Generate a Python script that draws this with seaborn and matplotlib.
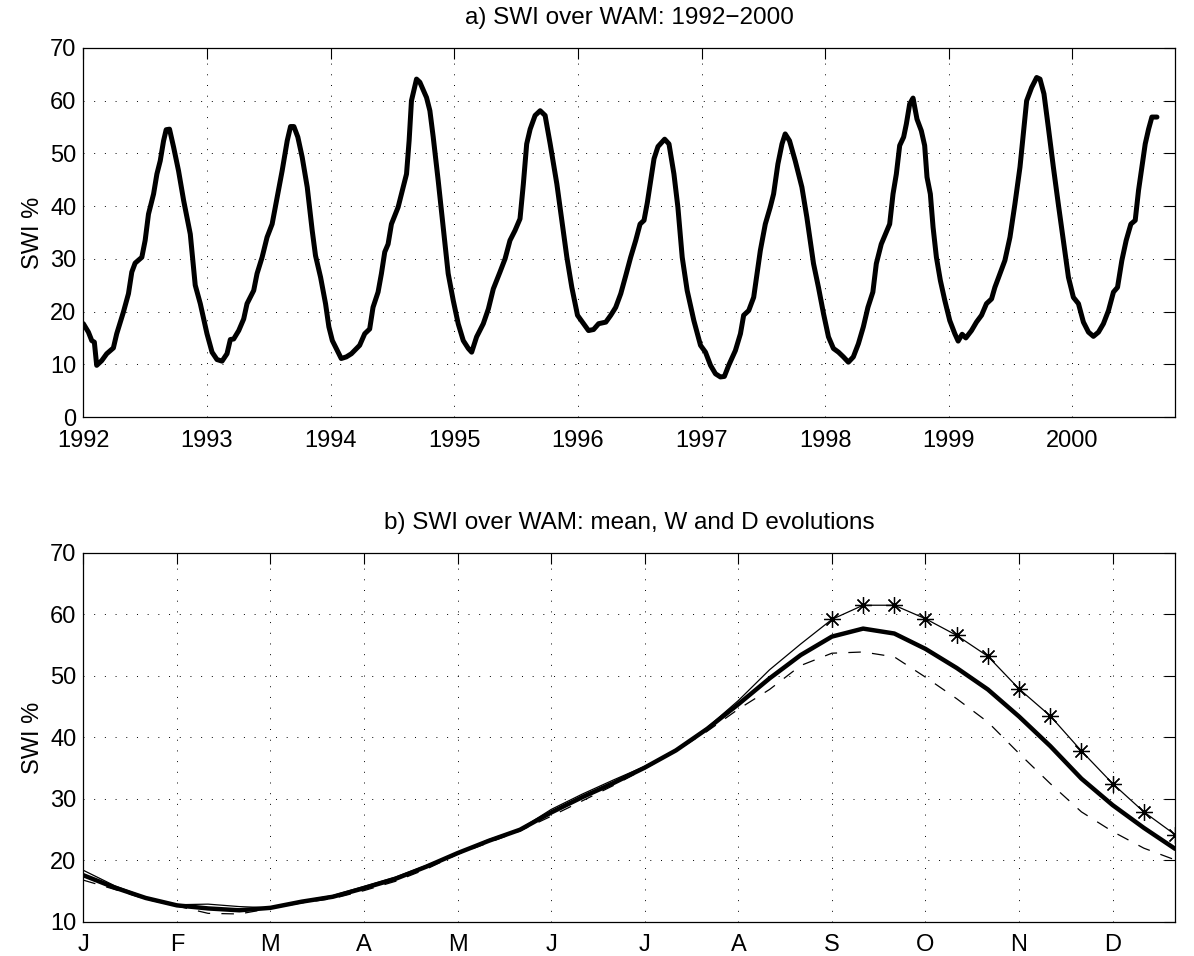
import numpy as np
import matplotlib
matplotlib.use("Agg")
import matplotlib.pyplot as plt
import seaborn as sns

# a) SWI over WAM, 1992-2000 (decimal year, SWI %)
years_a = [
    1992.000, 1992.041, 1992.068, 1992.089, 1992.108, 1992.149, 1992.189, 1992.243, 1992.270, 1992.324,
    1992.365, 1992.392, 1992.419, 1992.473, 1992.500, 1992.527, 1992.568, 1992.595, 1992.622, 1992.649,
    1992.670, 1992.697, 1992.730, 1992.770, 1992.811, 1992.865, 1992.905, 1992.946,
    1993.000, 1993.041, 1993.081, 1993.122, 1993.162, 1993.189, 1993.216, 1993.257, 1993.297, 1993.324,
    1993.378, 1993.405, 1993.446, 1993.486, 1993.527, 1993.568, 1993.608, 1993.649, 1993.676, 1993.703,
    1993.735, 1993.770, 1993.811, 1993.851, 1993.878, 1993.919, 1993.959, 1993.986,
    1994.014, 1994.054, 1994.086, 1994.127, 1994.168, 1994.235, 1994.276, 1994.316, 1994.343, 1994.384,
    1994.411, 1994.438, 1994.465, 1994.492, 1994.546, 1994.581, 1994.614, 1994.635, 1994.654, 1994.695,
    1994.722, 1994.776, 1994.803, 1994.830, 1994.870, 1994.911, 1994.951, 1994.992,
    1995.032, 1995.073, 1995.114, 1995.141, 1995.181, 1995.235, 1995.276, 1995.316, 1995.370, 1995.411,
    1995.451, 1995.492, 1995.532, 1995.559, 1995.586, 1995.614, 1995.654, 1995.695, 1995.735, 1995.776,
    1995.830, 1995.870, 1995.911, 1995.951, 1995.997,
    1996.046, 1996.086, 1996.127, 1996.168, 1996.226, 1996.266, 1996.306, 1996.347, 1996.387, 1996.427,
    1996.468, 1996.503, 1996.535, 1996.562, 1996.589, 1996.616, 1996.648, 1996.702, 1996.737, 1996.777,
    1996.809, 1996.844, 1996.884, 1996.938, 1996.992,
    1997.032, 1997.073, 1997.113, 1997.153, 1997.185, 1997.220, 1997.274, 1997.315, 1997.341, 1997.382,
    1997.422, 1997.449, 1997.476, 1997.516, 1997.556, 1997.583, 1997.618, 1997.651, 1997.677, 1997.712,
    1997.758, 1997.812, 1997.852, 1997.906, 1997.946, 1997.987,
    1998.027, 1998.067, 1998.108, 1998.148, 1998.188, 1998.228, 1998.269, 1998.309, 1998.346, 1998.386,
    1998.414, 1998.454, 1998.522, 1998.549, 1998.576, 1998.603, 1998.635, 1998.657, 1998.684, 1998.711,
    1998.743, 1998.778, 1998.805, 1998.824, 1998.851, 1998.873, 1998.900, 1998.932, 1998.968,
    1999.008, 1999.049, 1999.076, 1999.108, 1999.138, 1999.184, 1999.224, 1999.265, 1999.305, 1999.346,
    1999.373, 1999.414, 1999.454, 1999.495, 1999.535, 1999.576, 1999.603, 1999.630, 1999.670, 1999.711,
    1999.738, 1999.770, 1999.805, 1999.846, 1999.886, 1999.927, 1999.968,
    2000.008, 2000.049, 2000.089, 2000.130, 2000.170, 2000.211, 2000.251, 2000.292, 2000.332, 2000.365,
    2000.400, 2000.435, 2000.473, 2000.508, 2000.535, 2000.562, 2000.589, 2000.616, 2000.643, 2000.684,
]
swi_a = [
    17.7, 16.1, 14.5, 14.2, 9.8, 10.7, 12.0, 13.1, 15.8, 19.9,
    23.4, 27.5, 29.2, 30.3, 33.5, 38.5, 42.3, 46.1, 48.6, 52.4,
    54.5, 54.6, 51.2, 46.7, 41.1, 34.7, 25.0, 21.5,
    15.8, 12.3, 10.9, 10.6, 12.0, 14.7, 14.8, 16.4, 18.6, 21.5,
    24.0, 27.2, 30.3, 34.1, 36.6, 41.7, 46.7, 52.4, 55.1, 55.1,
    53.1, 49.3, 43.6, 35.4, 30.6, 26.5, 21.5, 17.1,
    14.5, 12.6, 11.1, 11.4, 12.0, 13.6, 15.8, 16.7, 20.8, 23.7,
    27.2, 31.3, 32.8, 36.6, 39.8, 43.0, 46.1, 52.4, 60.0, 64.1,
    63.5, 60.6, 58.1, 53.1, 44.9, 36.0, 27.2, 22.1,
    17.7, 14.5, 13.0, 12.3, 15.2, 17.7, 20.5, 24.3, 27.5, 30.0,
    33.5, 35.4, 37.6, 44.2, 51.8, 54.6, 57.2, 58.1, 57.2, 51.8,
    44.2, 37.3, 30.3, 24.6, 19.3,
    17.7, 16.4, 16.6, 17.7, 18.0, 19.3, 20.8, 23.4, 26.8, 30.3,
    33.5, 36.6, 37.3, 40.7, 44.9, 49.0, 51.3, 52.7, 51.8, 46.1,
    39.8, 30.3, 24.0, 18.3, 13.6,
    12.3, 9.8, 8.2, 7.6, 7.7, 9.8, 12.6, 15.8, 19.3, 20.2,
    22.7, 27.2, 31.6, 36.6, 39.8, 42.3, 48.0, 51.8, 53.7, 52.4,
    48.6, 43.6, 37.9, 29.1, 24.6, 19.6,
    15.2, 13.0, 12.3, 11.4, 10.4, 11.4, 13.9, 17.1, 20.8, 23.7,
    29.1, 32.8, 36.6, 42.3, 46.1, 51.5, 53.1, 55.6, 59.4, 60.5,
    56.5, 54.3, 51.5, 45.5, 42.3, 36.0, 30.3, 25.9, 22.1,
    18.3, 15.8, 14.4, 15.7, 15.0, 16.4, 18.0, 19.3, 21.5, 22.4,
    24.6, 27.2, 29.7, 34.1, 40.4, 47.4, 53.7, 60.0, 62.5, 64.4,
    64.1, 61.3, 55.0, 47.4, 40.4, 33.5, 26.5,
    22.7, 21.5, 18.0, 16.1, 15.3, 16.1, 17.7, 20.2, 23.7, 24.6,
    29.7, 33.5, 36.6, 37.3, 43.0, 47.4, 51.8, 54.6, 56.9, 56.9,
]
year_ticks = [1992, 1993, 1994, 1995, 1996, 1997, 1998, 1999, 2000]

# b) mean seasonal cycle per dekad, wet (W) and dry (D) years
dekads = list(range(1, 37))
swi_mean = [17.6, 15.6, 13.9, 12.7, 12.2, 11.9, 12.3, 13.3, 14.1, 15.5, 17.0, 19.0,
            21.2, 23.2, 25.0, 27.8, 30.3, 32.6, 35.1, 37.9, 41.4, 45.4, 49.6, 53.4,
            56.4, 57.7, 56.9, 54.4, 51.3, 47.8, 43.4, 38.6, 33.3, 29.0, 25.3, 21.9]
swi_wet = [18.4, 15.9, 14.0, 12.8, 12.9, 12.5, 12.3, 13.4, 14.3, 15.8, 17.3, 19.2,
           21.2, 23.4, 25.1, 28.3, 30.8, 33.1, 35.3, 37.9, 41.6, 46.0, 51.0, 55.2,
           59.2, 61.5, 61.5, 59.3, 56.6, 53.2, 47.9, 43.5, 37.8, 32.5, 27.9, 24.2]
swi_dry = [16.8, 15.3, 13.7, 12.6, 11.4, 11.3, 12.2, 13.1, 13.8, 15.1, 16.6, 18.6,
           21.0, 22.9, 24.8, 27.2, 29.7, 32.2, 34.9, 37.8, 41.0, 44.6, 47.8, 51.7,
           53.7, 53.9, 53.1, 49.8, 46.3, 42.5, 37.4, 32.5, 27.9, 24.7, 22.0, 20.1]
month_ticks = [1, 4, 7, 10, 13, 16, 19, 22, 25, 28, 31, 34]
month_labels = ['J', 'F', 'M', 'A', 'M', 'J', 'J', 'A', 'S', 'O', 'N', 'D']
star_from = 24  # stars on the W curve from September on

sns.set_style("white")
plt.rcParams['font.family'] = ['Liberation Sans', 'DejaVu Sans']
plt.rcParams['text.color'] = 'black'
plt.rcParams['axes.labelcolor'] = 'black'
FS = 17

fig = plt.figure(figsize=(11.94, 9.56), dpi=100)
ax1 = fig.add_axes([0.0698, 0.5638, 0.9143, 0.386])
ax2 = fig.add_axes([0.0698, 0.0356, 0.9143, 0.386])


def style_axes(ax):
    ax.grid(True, color='black', linestyle=(0, (1, 10)), linewidth=0.7)
    ax.tick_params(direction='in', top=True, right=True, length=8, width=0.8,
                   labelsize=FS, colors='black')
    ax.tick_params(axis='x', pad=9)
    ax.tick_params(axis='y', pad=5)
    for sp in ax.spines.values():
        sp.set_color('black')
        sp.set_linewidth(0.9)
    ax.set_axisbelow(True)


sns.lineplot(x=years_a, y=swi_a, ax=ax1, color='black', linewidth=3.6,
             estimator=None, sort=False)
ax1.set_xlim(1992, 2000.83)
ax1.set_ylim(0, 70)
ax1.set_xticks(year_ticks)
ax1.set_xticklabels([str(y) for y in year_ticks])
ax1.set_yticks(range(0, 71, 10))
ax1.set_ylabel('SWI %', fontsize=FS)
ax1.set_xlabel('')
ax1.set_title('a) SWI over WAM: 1992\u22122000', fontsize=17.5, pad=17)
style_axes(ax1)

# W: thin solid line, asterisks from September
sns.lineplot(x=dekads, y=swi_wet, ax=ax2, color='black', linewidth=0.9,
             estimator=None)
w_line = ax2.lines[-1]
w_line.set_marker((8, 2, 0))
w_line.set_markersize(12)
w_line.set_markeredgewidth(0.9)
w_line.set_markeredgecolor('black')
w_line.set_markevery(list(range(star_from, len(dekads))))

# D: thin dashed line
sns.lineplot(x=dekads, y=swi_dry, ax=ax2, color='black', linewidth=0.9,
             estimator=None)
ax2.lines[-1].set_dashes((10, 9))

# mean: thick solid line
sns.lineplot(x=dekads, y=swi_mean, ax=ax2, color='black', linewidth=3.2,
             estimator=None)

ax2.set_xlim(1, 36)
ax2.set_ylim(10, 70)
ax2.set_xticks(month_ticks)
ax2.set_xticklabels(month_labels)
ax2.set_yticks(range(10, 71, 10))
ax2.set_ylabel('SWI %', fontsize=FS)
ax2.set_xlabel('')
ax2.set_title('b) SWI over WAM: mean, W and D evolutions', fontsize=17.5, pad=17)
style_axes(ax2)

fig.savefig('out.png', dpi=100)
plt.close(fig)
